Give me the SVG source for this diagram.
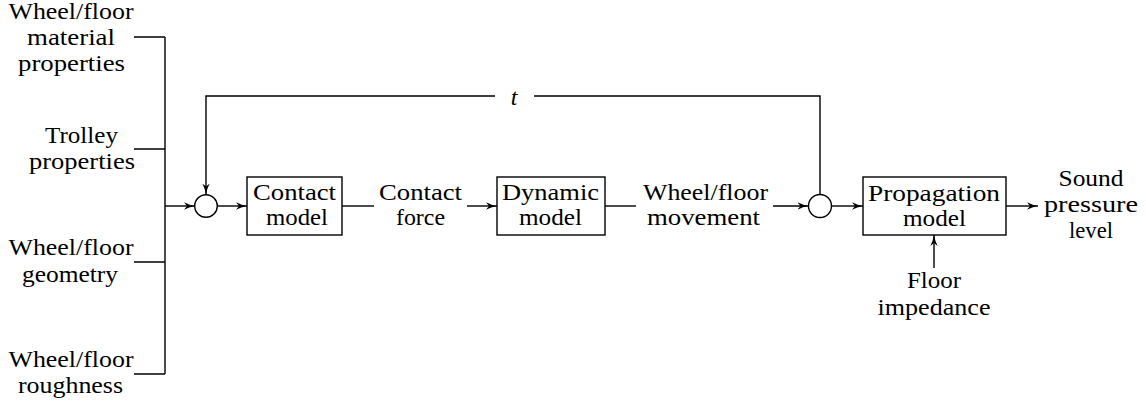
<svg xmlns="http://www.w3.org/2000/svg" width="1146" height="407" viewBox="0 0 1146 407" font-family="Liberation Serif, DejaVu Serif, serif">
<defs>
<style>
.ln{fill:none;stroke:#000;stroke-width:1.4}
.bx{fill:#fff;stroke:#000;stroke-width:1.4}
.tx{font-size:24px;fill:#000;text-anchor:middle}
.it{font-style:italic}
</style>
<marker id="ar" markerUnits="userSpaceOnUse" viewBox="0 0 11 8" refX="11" refY="4" markerWidth="11" markerHeight="8" orient="auto">
<path d="M0,0.3 Q5,3 11,4 Q5,5 0,7.7 L3,4 Z" fill="#000"/>
</marker>
</defs>
<rect width="1146" height="407" fill="#fff"/>
<g id="connectors">
<path class="ln" d="M134,37 H165 M134,149 H165 M134,262 H165 M134,374 H165 M165,37 V374"/>
<path class="ln" d="M165,206 H195" marker-end="url(#ar)"/>
<path class="ln" d="M217.5,206 H247" marker-end="url(#ar)"/>
<path class="ln" d="M342,206 H374"/>
<path class="ln" d="M467,206 H497" marker-end="url(#ar)"/>
<path class="ln" d="M605,206 H636"/>
<path class="ln" d="M773,206 H808.5" marker-end="url(#ar)"/>
<path class="ln" d="M831.5,206 H863" marker-end="url(#ar)"/>
<path class="ln" d="M1006,206 H1038" marker-end="url(#ar)"/>
<path class="ln" d="M934,268 V235" marker-end="url(#ar)"/>
<path class="ln" d="M820,194.5 V96 H534"/>
<path class="ln" d="M495,96 H206 V194.5" marker-end="url(#ar)"/>
</g>
<g class="tx" font-family="Liberation Serif, DejaVu Serif, serif">
<g id="in-material">
<text x="71" y="19" textLength="125" lengthAdjust="spacingAndGlyphs">Wheel/floor</text>
<text x="71" y="45" textLength="88" lengthAdjust="spacingAndGlyphs">material</text>
<text x="71.5" y="71" textLength="107" lengthAdjust="spacingAndGlyphs">properties</text>
</g>
<g id="in-trolley">
<text x="81.5" y="143" textLength="73" lengthAdjust="spacingAndGlyphs">Trolley</text>
<text x="82" y="169" textLength="106" lengthAdjust="spacingAndGlyphs">properties</text>
</g>
<g id="in-geometry">
<text x="71" y="255" textLength="125" lengthAdjust="spacingAndGlyphs">Wheel/floor</text>
<text x="70" y="282" textLength="96" lengthAdjust="spacingAndGlyphs">geometry</text>
</g>
<g id="in-roughness">
<text x="71" y="367" textLength="125" lengthAdjust="spacingAndGlyphs">Wheel/floor</text>
<text x="70.5" y="393" textLength="105" lengthAdjust="spacingAndGlyphs">roughness</text>
</g>
<g id="sum1">
<circle class="bx" cx="206" cy="206" r="11.3"/>
</g>
<g id="contact-model">
<rect class="bx" x="247" y="177" width="95" height="58"/>
<text x="294.5" y="200" textLength="83" lengthAdjust="spacingAndGlyphs">Contact</text>
<text x="297" y="225" textLength="62" lengthAdjust="spacingAndGlyphs">model</text>
</g>
<g id="contact-force">
<text x="420.5" y="200" textLength="83" lengthAdjust="spacingAndGlyphs">Contact</text>
<text x="420.5" y="225" textLength="49" lengthAdjust="spacingAndGlyphs">force</text>
</g>
<g id="dynamic-model">
<rect class="bx" x="497" y="177" width="108" height="58"/>
<text x="550.5" y="200" textLength="97" lengthAdjust="spacingAndGlyphs">Dynamic</text>
<text x="550.5" y="225" textLength="63" lengthAdjust="spacingAndGlyphs">model</text>
</g>
<g id="movement">
<text x="705.5" y="200" textLength="125" lengthAdjust="spacingAndGlyphs">Wheel/floor</text>
<text x="703.5" y="225" textLength="113" lengthAdjust="spacingAndGlyphs">movement</text>
</g>
<g id="sum2">
<circle class="bx" cx="820" cy="206" r="11.5"/>
</g>
<g id="t-label">
<text class="it" x="514" y="105">t</text>
</g>
<g id="propagation-model">
<rect class="bx" x="863" y="177" width="143" height="58"/>
<text x="934" y="201" textLength="132" lengthAdjust="spacingAndGlyphs">Propagation</text>
<text x="934.5" y="226" textLength="63" lengthAdjust="spacingAndGlyphs">model</text>
</g>
<g id="spl">
<text x="1091" y="186" textLength="65" lengthAdjust="spacingAndGlyphs">Sound</text>
<text x="1091" y="212" textLength="94" lengthAdjust="spacingAndGlyphs">pressure</text>
<text x="1091" y="238" textLength="44" lengthAdjust="spacingAndGlyphs">level</text>
</g>
<g id="floor-impedance">
<text x="934" y="288" textLength="54" lengthAdjust="spacingAndGlyphs">Floor</text>
<text x="934" y="315" textLength="113" lengthAdjust="spacingAndGlyphs">impedance</text>
</g>
</g>
</svg>
